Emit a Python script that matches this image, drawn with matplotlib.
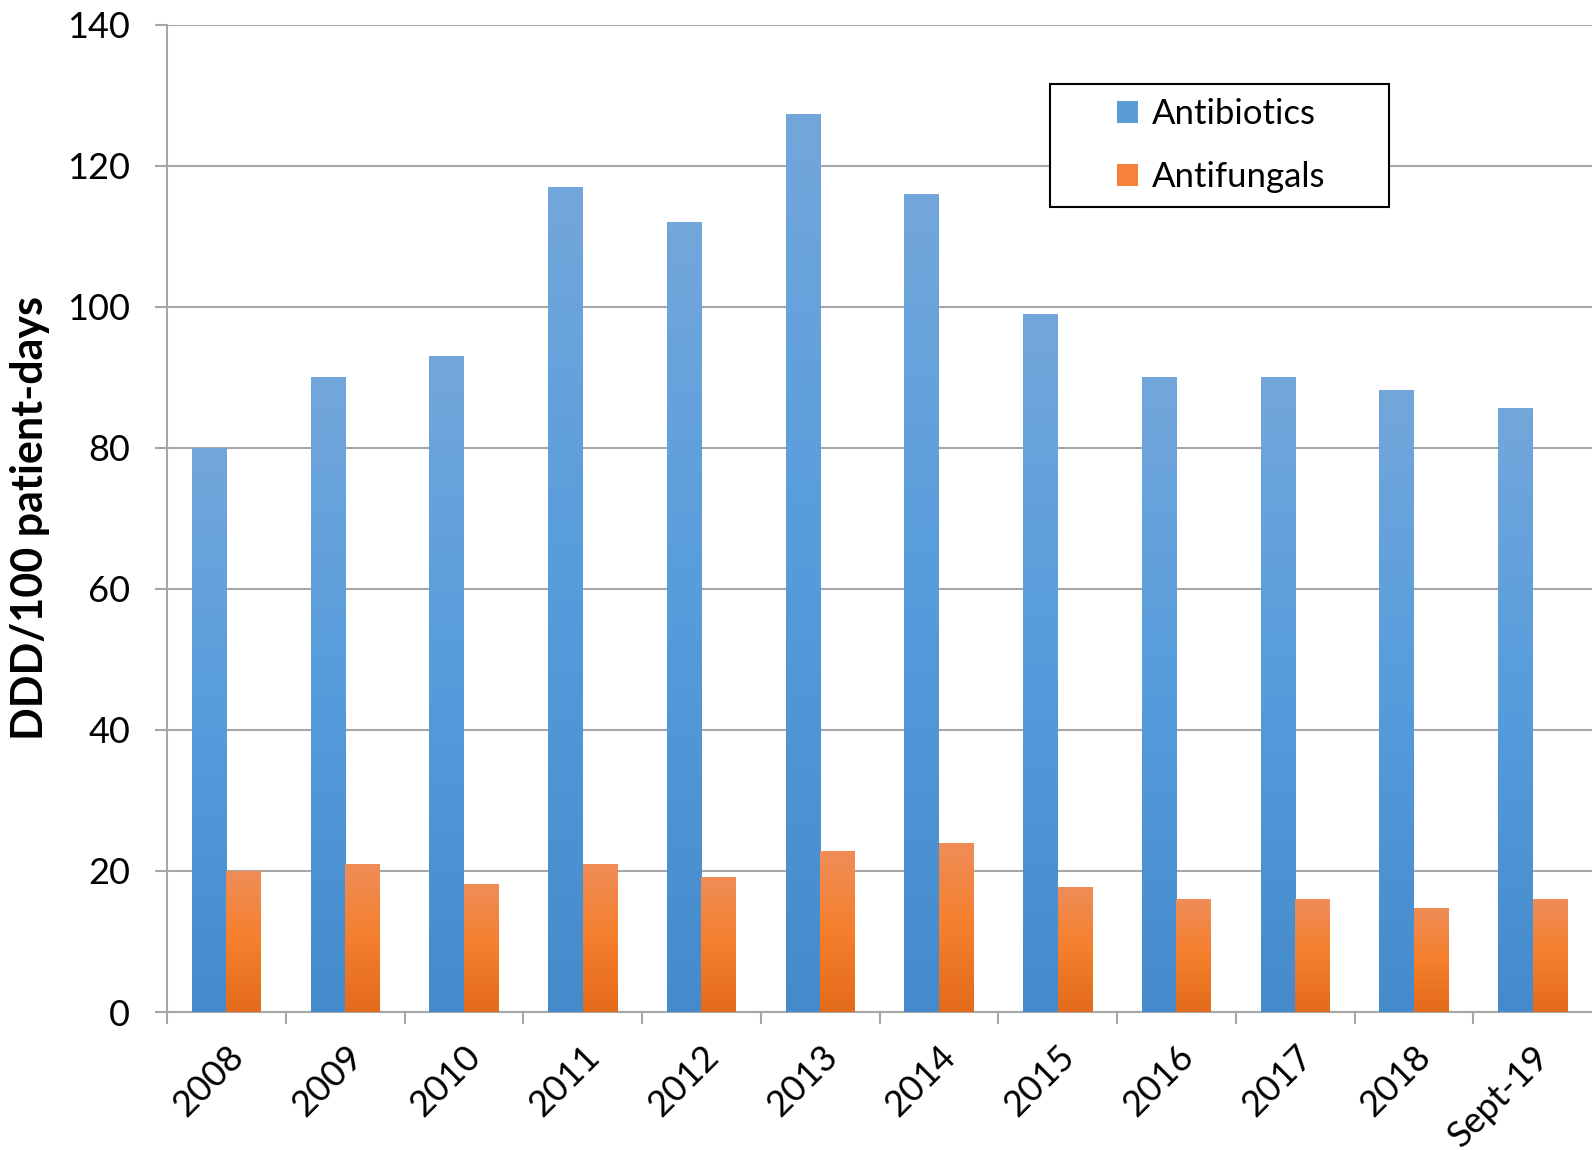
import numpy as np
import matplotlib
matplotlib.use("Agg")
import matplotlib.pyplot as plt
from matplotlib.colors import LinearSegmentedColormap
from matplotlib.patches import Patch, Rectangle

years = ["2008", "2009", "2010", "2011", "2012", "2013", "2014", "2015", "2016", "2017", "2018", "Sept-19"]
antibiotics = [80, 90, 93, 117, 112, 127.3, 116, 99, 90, 90, 88.2, 85.6]
antifungals = [20, 21, 18.1, 21, 19.1, 22.9, 24, 17.8, 16, 16, 14.8, 16]

plt.rcParams["font.family"] = ["Lato", "DejaVu Sans"]

# bottom -> middle -> top shading, like office-style gradient fills
blue_cmap = LinearSegmentedColormap.from_list("blue", ["#458bcb", "#559cdc", "#73a7db"])
orange_cmap = LinearSegmentedColormap.from_list("orange", ["#e36b1c", "#f57f2c", "#ef8d58"])

fig = plt.figure(figsize=(15.92, 11.5), dpi=100)
ax = fig.add_axes([0.1049, 0.12, 0.8951, 0.8583])

x = np.arange(len(years))
w = 0.29
grad = np.linspace(0, 1, 256).reshape(-1, 1)


def gradient_bars(xpos, vals, cmap):
    bars = ax.bar(xpos, vals, w, color="none", edgecolor="none", zorder=3)
    for b in bars:
        x0, y0 = b.get_x(), b.get_y()
        im = ax.imshow(grad, cmap=cmap, aspect="auto", origin="lower",
                       extent=[x0, x0 + b.get_width(), y0, y0 + b.get_height()], zorder=3)
        im.set_clip_path(b)
    return bars


gradient_bars(x - w / 2, antibiotics, blue_cmap)
gradient_bars(x + w / 2, antifungals, orange_cmap)

ax.set_xlim(-0.5, len(years) - 0.5)
ax.set_ylim(0, 140)
ax.set_yticks(range(0, 141, 20))
ax.yaxis.grid(True, color="#a6a6a6", linewidth=1.5, zorder=0)
ax.set_axisbelow(True)

# category labels at centres, tick marks on the boundaries
ax.set_xticks(x)
ax.set_xticklabels(years, rotation=45, ha="right", va="top", rotation_mode="anchor")
ax.set_xticks(np.arange(len(years)) - 0.5, minor=True)
ax.tick_params(axis="x", which="major", length=0, pad=20, labelsize=26)
ax.tick_params(axis="x", which="minor", length=8.6, width=1.5, color="#a6a6a6")
ax.tick_params(axis="y", length=8.6, width=1.5, color="#a6a6a6", labelsize=26, pad=18)

for s in ["top", "right"]:
    ax.spines[s].set_visible(False)
for s in ["left", "bottom"]:
    ax.spines[s].set_color("#a6a6a6")
    ax.spines[s].set_linewidth(1.5)

ax.set_ylabel("DDD/100 patient-days", fontsize=31, fontweight="bold")
ax.yaxis.set_label_coords(-0.082, 0.5)

# legend frame drawn separately so the entries sit centred in a wide box
ax.add_patch(Rectangle((0.6196, 0.8156), 0.2379, 0.1246, transform=ax.transAxes,
                       facecolor="white", edgecolor="black", linewidth=1.5, zorder=5))
handles = [Patch(facecolor="#5b9bd5", label="Antibiotics"),
           Patch(facecolor="#f5813a", label="Antifungals")]
leg = ax.legend(handles=handles, loc="center", bbox_to_anchor=(0.7400, 0.8779),
                fontsize=25, frameon=False,
                handlelength=0.6, handleheight=0.6, handletextpad=0.4,
                labelspacing=0.9, borderpad=0, borderaxespad=0)
leg.set_zorder(6)

fig.savefig("out.png", dpi=100)
